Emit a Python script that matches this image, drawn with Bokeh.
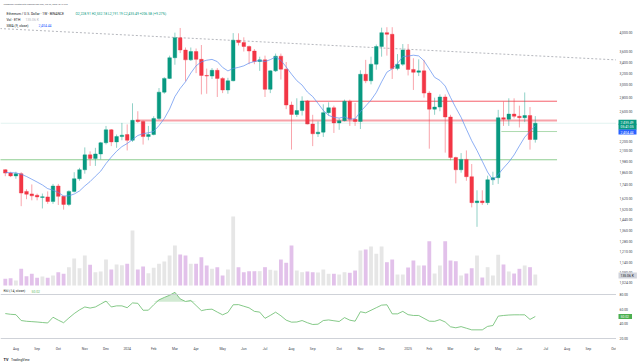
import numpy as np
import pandas as pd
from bokeh.plotting import figure
from bokeh.layouts import column, row
from bokeh.models import Range1d, LinearScale, FixedTicker, Label, Span
from bokeh.core.properties import value
from bokeh.embed import file_html
from bokeh.resources import INLINE

# ---------------- data (weekly candles, BINANCE ETHUSD) ----------------
first_week = "2023-07-24"
opens = [1891, 1856, 1828, 1850, 1680, 1657, 1645, 1625, 1630, 1590, 1730, 1635, 1565, 1680, 1800, 1890, 2050, 2010, 2060, 2190,
         2350, 2200, 2265, 2290, 2220, 2475, 2460, 2265, 2290, 2500, 2885, 3110, 3480, 3880, 3630, 3440, 3600, 3450, 3160, 3150,
         3250, 3110, 2920, 3070, 3830, 3780, 3700, 3610, 3410, 3440, 2930, 3240, 3510, 3270, 2690, 2555, 2610, 2750, 2425, 2300,
         2320, 2580, 2650, 2440, 2470, 2745, 2490, 2460, 3180, 3070, 3360, 3700, 3990, 3955, 3280, 3360, 3630, 3265, 3215, 3240,
         2870, 2630, 2660, 2810, 2520, 2020, 1890, 2000, 1820, 1580, 1595, 1580, 1790, 1810, 2510, 2490, 2560, 2530, 2510, 2540,
         2228.91]
highs = [1895, 1870, 1870, 1865, 1700, 1745, 1660, 1660, 1680, 1750, 1750, 1640, 1690, 1865, 1910, 2135, 2090, 2130, 2200, 2400,
         2360, 2290, 2440, 2420, 2715, 2600, 2470, 2400, 2530, 2950, 3130, 3520, 3990, 4093, 3680, 3680, 3660, 3730, 3280, 3290,
         3290, 3130, 3120, 3980, 3975, 3890, 3720, 3650, 3500, 3520, 3250, 3560, 3560, 3400, 2740, 2790, 2820, 2765, 2550, 2460,
         2700, 2730, 2680, 2500, 2770, 2770, 2720, 3250, 3440, 3500, 3740, 4100, 4110, 4110, 3550, 3750, 3750, 3470, 3450, 3440,
         2900, 2800, 2850, 2850, 2550, 2030, 2070, 2100, 1950, 1690, 1690, 1830, 1870, 2620, 2740, 2790, 2790, 2680, 2880, 2660,
         2532.18]
lows = [1825, 1816, 1800, 1550, 1610, 1600, 1600, 1531, 1570, 1570, 1560, 1521, 1550, 1670, 1780, 1850, 1930, 1930, 2000, 2170,
        2150, 2130, 2220, 2100, 2200, 2440, 2168, 2220, 2280, 2480, 2860, 3100, 3350, 3570, 3060, 3420, 3200, 2850, 2860, 3100,
        2810, 2870, 2860, 3060, 3720, 3600, 3360, 3360, 3240, 2810, 2870, 3220, 3090, 2630, 2110, 2520, 2540, 2420, 2150, 2260,
        2260, 2540, 2310, 2350, 2460, 2400, 2400, 2360, 3030, 3010, 3260, 3500, 3520, 3100, 3250, 3330, 3160, 2920, 3150, 2800,
        2120, 2550, 2600, 2075, 1990, 1755, 1860, 1780, 1540, 1385, 1560, 1560, 1740, 1750, 2400, 2400, 2500, 2380, 2450, 2110,
        2191.19]
closes = [1856, 1828, 1850, 1665, 1655, 1640, 1630, 1632, 1590, 1730, 1635, 1565, 1680, 1800, 1890, 2050, 2010, 2060, 2190, 2350,
          2200, 2265, 2282, 2220, 2475, 2460, 2265, 2290, 2500, 2885, 3110, 3480, 3880, 3630, 3440, 3600, 3450, 3160, 3150, 3250,
          3110, 2920, 3070, 3830, 3780, 3700, 3610, 3410, 3440, 2930, 3240, 3510, 3270, 2690, 2555, 2610, 2750, 2425, 2300, 2320,
          2580, 2650, 2440, 2470, 2745, 2490, 2460, 3180, 3070, 3360, 3700, 3990, 3955, 3280, 3360, 3630, 3265, 3215, 3240, 2870,
          2630, 2660, 2810, 2520, 2020, 1890, 2000, 1820, 1580, 1595, 1580, 1790, 1810, 2510, 2490, 2560, 2530, 2510, 2540, 2228.91,
          2435.49]
volumes_k = [82, 90, 61, 205, 114, 144, 95, 111, 95, 123, 163, 144, 225, 332, 212, 368, 254, 163, 172, 319,
             196, 258, 249, 266, 675, 196, 233, 151, 217, 266, 295, 368, 491, 381, 368, 266, 266, 348, 246, 205,
             225, 123, 196, 847, 225, 163, 176, 176, 176, 225, 193, 184, 319, 279, 491, 184, 163, 172, 163, 160,
             196, 144, 144, 135, 163, 156, 184, 430, 442, 479, 389, 479, 286, 319, 135, 135, 221, 307, 246, 246,
             544, 147, 246, 544, 307, 298, 123, 147, 212, 368, 98, 225, 123, 377, 258, 172, 147, 205, 246, 225,
             135.06]
sma9 = [1862, 1860, 1858, 1845, 1822, 1795, 1768, 1740, 1705.4, 1691.4, 1670.0, 1638.3, 1640.0, 1656.1, 1683.9, 1730.6,
        1772.2, 1824.4, 1875.6, 1955.0, 2025.6, 2090.6, 2144.1, 2180.8, 2228.0, 2278.0, 2300.8, 2311.9, 2328.6, 2404.7,
        2498.6, 2631.7, 2816.1, 2944.4, 3053.3, 3201.7, 3330.6, 3403.9, 3433.3, 3448.9, 3407.8, 3301.1, 3238.9, 3282.2,
        3302.2, 3330.0, 3380.0, 3408.9, 3428.9, 3408.9, 3444.4, 3493.3, 3431.1, 3310.0, 3182.8, 3071.7, 2998.3, 2886.7,
        2816.7, 2714.4, 2611.1, 2542.2, 2514.4, 2505.0, 2520.0, 2491.1, 2495.0, 2592.8, 2676.1, 2762.8, 2879.4, 3051.7,
        3216.7, 3276.1, 3372.8, 3502.8, 3512.2, 3528.3, 3515.0, 3422.8, 3271.7, 3127.8, 3075.6, 2982.2, 2803.3, 2650.6,
        2515.6, 2357.8, 2214.4, 2099.4, 1979.4, 1866.1, 1787.2, 1841.7, 1908.3, 1970.6, 2049.4, 2152.8, 2257.8, 2329.9,
        2404.44]
rsi14 = [54, 53, 52.5, 44.5, 43.5, 43, 42.5, 41.8, 41.2, 49, 45, 41.5, 48, 54, 59, 63, 61.5, 63, 67, 71,
         63, 64.5, 64.5, 62, 68.5, 68, 58.5, 58.6, 66, 72.7, 76, 79, 83, 74, 70.5, 71.8, 65, 58, 59.5, 60,
         56, 52.3, 55.5, 66, 66.2, 64, 61.8, 57, 56, 47.5, 51.5, 55.9, 51, 45, 42.3, 42.5, 44.5, 41.5, 39.1, 39.5,
         44.5, 45.3, 44.2, 43.2, 48.5, 45, 43.6, 56.5, 55, 58.5, 62, 65.5, 66, 53.6, 53.6, 57, 52.5, 51.4, 51.4, 47.5,
         43.6, 43.4, 45.7, 42.5, 36, 34.6, 36.2, 34, 31.8, 31.8, 31.8, 36.5, 37.7, 50.5, 51.4, 52, 52.3, 52.3, 52.3, 46,
         50.02]
price_ticks = [1024, 1080, 1140, 1210, 1280, 1360, 1440, 1520, 1620, 1740, 1860, 1980, 2100, 2200,
               2600, 2800, 3000, 3200, 3400, 3600, 4000]
rsi_ticks = [20, 40, 60, 80]
rsi_bands = [80, 20]

# user drawings: horizontal levels (price, start week index, end week index)
level_price = [2746, 2472, 1996, 2328]
level_start = [56.3, 24.6, -1.0, 93.6]
level_end = [104.1, 104.1, 104.1, 104.1]
level_color = ["#f23645", "#f7a1a8", "#81c784", "#a5d6a7"]
level_width = [0.8, 1.8, 0.9, 0.9]
trend_x = [-1.0, 116.0]
trend_price = [4080, 3436]

# ---------------- derived ----------------
n = len(closes)
idx = np.arange(n)
dates = pd.date_range(first_week, periods=n + 15, freq="7D")
tick_pos, tick_txt = [], []
prev = None
for k, d in enumerate(dates):
    key = (d.year, d.month)
    if prev is not None and key != prev:
        tick_pos.append(k)
        tick_txt.append(str(d.year) if d.month == 1 else d.strftime("%b"))
    prev = key

o = np.array(opens, float); c = np.array(closes, float)
up = c >= o
GREEN, RED = "#089981", "#f23645"
ccol = [GREEN if u else RED for u in up]
vcol = ["#e6e6e6" if u else "#e2c1ea" for u in up]
body_top = np.maximum(o, c)
body_bot = np.minimum(o, c)

# ---------------- geometry ----------------
W, RB = 640, 24
FW = W - RB
H_MAIN, H_RSI, H_FOOT = 289, 64, 10
FH, FHR = H_MAIN, 52
FONT = "Roboto"
FS = "3.4px"
AXC = "#434651"

def ym(ref_y):
    return FH - ref_y

def yr(ref_y):
    return FHR - (ref_y - H_MAIN)

def clean(fig):
    fig.outline_line_color = None
    fig.grid.visible = False

def lab(fig, x, y, text, color="#131722", size=FS, bg=None, bold=False):
    kw = dict(x=x, y=y, x_units="screen", y_units="screen", text=text, text_font=FONT, text_font_size=size,
              text_color=color, text_baseline="middle")
    if bold:
        kw["text_font_style"] = "bold"
    if bg:
        kw.update(background_fill_color=bg, padding=dict(left=2, right=3, top=1, bottom=1))
    fig.add_layout(Label(**kw))

xr = Range1d(-0.906, 115.32)
price_range = Range1d(984.3, 4754)
rsi_range = Range1d(15.91, 86.82)
vpp = 135.06 / 11.0

# ---------------- main price pane ----------------
p = figure(width=FW, height=H_MAIN, x_range=xr, y_range=price_range, y_axis_type="log",
           y_axis_location=None, x_axis_location=None, toolbar_location=None, output_backend="svg",
           min_border_left=0, min_border_right=0, min_border_top=0, min_border_bottom=0)
clean(p)
p.extra_y_ranges = {"vol": Range1d(-4 * vpp, 285 * vpp)}
p.extra_y_scales = {"vol": LinearScale()}

p.vbar(x=idx, width=0.72, top=volumes_k, bottom=0, fill_color=vcol, line_color=None, y_range_name="vol")
p.line(trend_x, trend_price, line_color="#9598a1", line_dash="2 2", line_width=0.7)
p.add_layout(Span(location=closes[-1], dimension="width", line_color=GREEN, line_alpha=0.2, line_width=0.6))
p.segment(x0=level_start, y0=level_price, x1=level_end, y1=level_price, line_color=level_color, line_width=level_width)
p.segment(x0=idx, y0=lows, x1=idx, y1=highs, line_color=ccol, line_width=0.6, line_alpha=0.75)
p.vbar(x=idx, width=0.68, top=body_top, bottom=body_bot, fill_color=ccol, line_color=ccol, line_width=0.4)
p.line(idx, sma9, line_color="#5b8def", line_width=0.7)

lab(p, 3, ym(4), "TimBukker created with TradingView.com, Jun 29, 2025 18:12 UTC", "#50535e", "2.2px")
lab(p, 6, ym(13), "Ethereum / U.S. Dollar \u00b7 1W \u00b7 BINANCE")
lab(p, 75, ym(13), "O2,228.91 H2,532.18 L2,191.19 C2,435.49 +206.58 (+9.27%)", GREEN)
lab(p, 6, ym(19), "Vol \u00b7 ETH")
lab(p, 25, ym(19), "135.06 K", "#b2b5be")
lab(p, 6, ym(25), "SMA (9, close)")
lab(p, 38, ym(25), "2,404.44", "#2962ff")

# price scale column
pr = figure(width=RB, height=H_MAIN, x_range=Range1d(0, RB), y_range=price_range, y_axis_type="log",
            y_axis_location=None, x_axis_location=None, toolbar_location=None, output_backend="svg",
            min_border_left=0, min_border_right=0, min_border_top=0, min_border_bottom=0)
clean(pr)
pr.text(x=[3] * len(price_ticks), y=price_ticks, text=[f"{t:,.2f}" for t in price_ticks],
        text_font=value(FONT), text_font_size=value(FS), text_color=AXC, text_baseline="middle", text_align="left")
lab(pr, 2, ym(121.8), "2,435.49", "white", bg=GREEN)
lab(pr, 2, ym(126.3), "05:41:05", "white", bg=GREEN)
lab(pr, 2, ym(131.5), "2,404.44", "white", bg="#2962ff")
lab(pr, 2, ym(275), "135.06 K", "#131722", bg="#d1d4dc")

# ---------------- RSI pane ----------------
r = figure(width=FW, height=H_RSI, x_range=xr, y_range=rsi_range, y_axis_location=None,
           toolbar_location=None, output_backend="svg",
           min_border_left=0, min_border_right=0, min_border_top=0, min_border_bottom=H_RSI - FHR)
clean(r)
for b in rsi_bands:
    r.add_layout(Span(location=b, dimension="width", line_color="#c3c6ce", line_width=0.8))
r.varea(x=idx, y1=70, y2=np.maximum(np.array(rsi14), 70), fill_color="#66bb6a", fill_alpha=0.3)
r.line(idx, rsi14, line_color="#66bb6a", line_width=0.8)

xa = r.xaxis[0]
xa.ticker = FixedTicker(ticks=tick_pos, minor_ticks=[])
xa.major_label_overrides = {int(k): t for k, t in zip(tick_pos, tick_txt)}
xa.axis_line_color = None
xa.major_tick_line_color = None
xa.minor_tick_line_color = None
xa.major_tick_out = 0
xa.major_label_standoff = 5
xa.major_label_text_font_size = FS
xa.major_label_text_font = FONT
xa.major_label_text_color = AXC

lab(r, 3, yr(290.5), "RSI (14, close)")
lab(r, 31, yr(290.5), "50.02", "#66bb6a")

rr = figure(width=RB, height=H_RSI, x_range=Range1d(0, RB), y_range=rsi_range,
            y_axis_location=None, x_axis_location=None, toolbar_location=None, output_backend="svg",
            min_border_left=0, min_border_right=0, min_border_top=0, min_border_bottom=H_RSI - FHR)
clean(rr)
rr.text(x=[3] * len(rsi_ticks), y=rsi_ticks, text=[f"{t:.2f}" for t in rsi_ticks],
        text_font=value(FONT), text_font_size=value(FS), text_color=AXC, text_baseline="middle", text_align="left")
lab(rr, 2, yr(316), "50.02", "white", bg="#4caf50")

# ---------------- footer ----------------
f = figure(width=W, height=H_FOOT, x_range=Range1d(0, W), y_range=Range1d(0, H_FOOT),
           x_axis_location=None, y_axis_location=None, toolbar_location=None, output_backend="svg",
           min_border_left=0, min_border_right=0, min_border_top=0, min_border_bottom=0)
clean(f)
foot_y = H_FOOT - (357 - (H_MAIN + H_RSI))
f.text(x=[3], y=[foot_y], text=["TV"], text_font=value(FONT), text_font_size=value("3.8px"),
       text_font_style="bold", text_color="#131722", text_baseline="middle")
f.text(x=[10.5], y=[foot_y], text=["TradingView"], text_font=value(FONT),
       text_font_size=value(FS), text_color="#131722", text_baseline="middle")

page = column(row(p, pr, spacing=0), row(r, rr, spacing=0), f, spacing=0)
open("out.html", "w").write(file_html(page, INLINE))
